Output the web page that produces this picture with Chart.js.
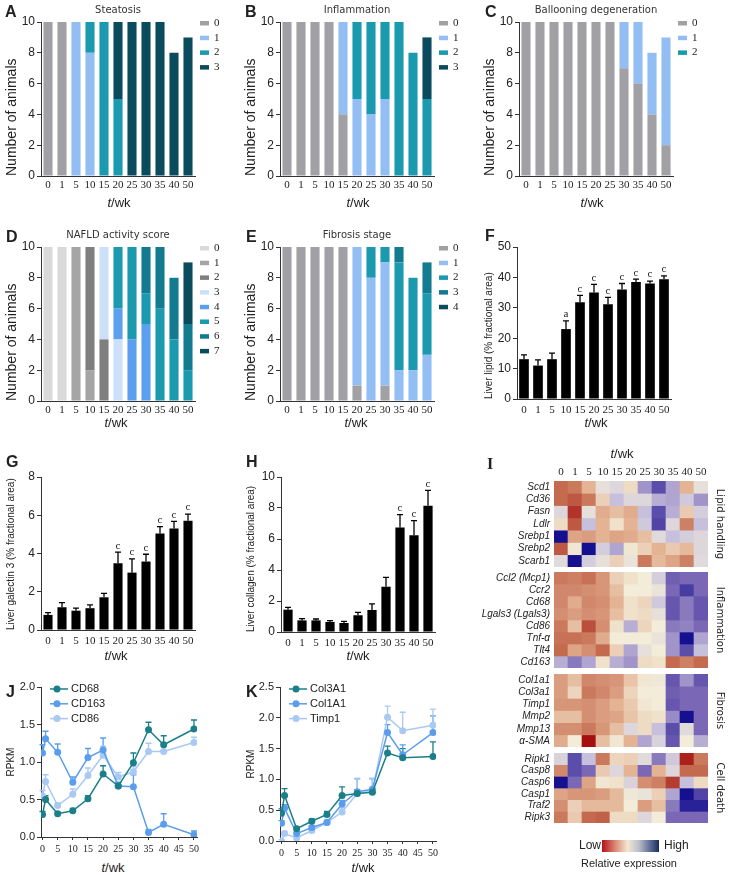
<!DOCTYPE html>
<html>
<head>
<meta charset="utf-8">
<script src="https://cdn.jsdelivr.net/npm/chart.js@4.4.1/dist/chart.umd.min.js"></script>
<style>
body{margin:0;background:#fff;width:730px;height:875px;position:relative;overflow:hidden;font-family:"Liberation Sans",Arial,sans-serif;color:#222;}
canvas{position:absolute;}
.t{position:absolute;white-space:nowrap;line-height:1;}
.letter{font-weight:bold;font-size:16px;}
.tw{font-size:13px;transform:translate(-50%,-50%);}
</style>
</head>
<body>
<canvas id="cA" width="240" height="200" style="left:0;top:0"></canvas>
<canvas id="cB" width="240" height="200" style="left:239px;top:0"></canvas>
<canvas id="cC" width="240" height="200" style="left:478px;top:0"></canvas>
<canvas id="cD" width="240" height="200" style="left:0;top:225px"></canvas>
<canvas id="cE" width="240" height="200" style="left:239px;top:225px"></canvas>
<canvas id="cF" width="200" height="185" style="left:478px;top:232px"></canvas>
<canvas id="cG" width="200" height="185" style="left:0;top:462px"></canvas>
<canvas id="cH" width="200" height="187" style="left:240px;top:462px"></canvas>
<canvas id="cI1" width="250" height="127" style="left:480px;top:440px"></canvas>
<canvas id="cI2" width="250" height="96" style="left:480px;top:572px"></canvas>
<canvas id="cI3" width="250" height="73" style="left:480px;top:674px"></canvas>
<canvas id="cI4" width="250" height="70" style="left:480px;top:753px"></canvas>
<canvas id="cJ" width="210" height="185" style="left:0;top:672px"></canvas>
<canvas id="cK" width="210" height="189" style="left:240px;top:672px"></canvas>

<div class="t letter" style="left:5px;top:4px">A</div>
<div class="t letter" style="left:245px;top:4px">B</div>
<div class="t letter" style="left:485px;top:4px">C</div>
<div class="t letter" style="left:6px;top:229px">D</div>
<div class="t letter" style="left:246px;top:229px">E</div>
<div class="t letter" style="left:485px;top:228px">F</div>
<div class="t letter" style="left:6px;top:454px">G</div>
<div class="t letter" style="left:246px;top:454px">H</div>
<div class="t letter" style="left:487px;top:456px;font-family:'Liberation Serif',serif">I</div>
<div class="t letter" style="left:6px;top:684px">J</div>
<div class="t letter" style="left:246px;top:684px">K</div>

<div class="t tw" style="left:119px;top:202px"><i>t</i>/wk</div>
<div class="t tw" style="left:358px;top:202px"><i>t</i>/wk</div>
<div class="t tw" style="left:592px;top:202px"><i>t</i>/wk</div>
<div class="t tw" style="left:116px;top:422px"><i>t</i>/wk</div>
<div class="t tw" style="left:356px;top:422px"><i>t</i>/wk</div>
<div class="t tw" style="left:596px;top:422px"><i>t</i>/wk</div>
<div class="t tw" style="left:116px;top:655px"><i>t</i>/wk</div>
<div class="t tw" style="left:358px;top:655px"><i>t</i>/wk</div>
<div class="t tw" style="left:622px;top:453px"><i>t</i>/wk</div>
<div class="t tw" style="left:113px;top:867px"><i>t</i>/wk</div>
<div class="t tw" style="left:363px;top:867px"><i>t</i>/wk</div>

<div class="t" style="left:579px;top:839px;font-size:12px">Low</div>
<div style="position:absolute;left:602px;top:840px;width:57px;height:12px;background:linear-gradient(to right,#b3121b 0%,#d9826e 22%,#f4e8d0 45%,#b9bccb 65%,#5b6a94 85%,#1c2a5c 100%)"></div>
<div class="t" style="left:664px;top:839px;font-size:12px">High</div>
<div class="t" style="left:629px;top:863px;font-size:11px;transform:translate(-50%,-50%)">Relative expression</div>

<script>
Chart.defaults.font.family = '"Liberation Sans", Arial, sans-serif';
Chart.defaults.color = '#333';
Chart.defaults.animation = false;

const weeks = ['0', '1', '5', '10', '15', '20', '25', '30', '35', '40', '50'];
const weekNum = [0, 1, 5, 10, 15, 20, 25, 30, 35, 40, 50];
const lineTicks = [0, 5, 10, 15, 20, 25, 30, 35, 40, 45, 50];

// A - steatosis grade counts
const steat0 = [10, 10, 0, 0, 0, 0, 0, 0, 0, 0, 0];
const steat1 = [0, 0, 10, 8, 0, 0, 0, 0, 0, 0, 0];
const steat2 = [0, 0, 0, 2, 10, 5, 0, 0, 0, 0, 0];
const steat3 = [0, 0, 0, 0, 0, 5, 10, 10, 10, 8, 9];
// B - inflammation
const infl0 = [10, 10, 10, 10, 4, 0, 0, 0, 0, 0, 0];
const infl1 = [0, 0, 0, 0, 6, 5, 4, 5, 0, 0, 0];
const infl2 = [0, 0, 0, 0, 0, 5, 6, 5, 10, 8, 5];
const infl3 = [0, 0, 0, 0, 0, 0, 0, 0, 0, 0, 4];
// C - ballooning
const ball0 = [10, 10, 10, 10, 10, 10, 10, 7, 6, 4, 2];
const ball1 = [0, 0, 0, 0, 0, 0, 0, 3, 4, 4, 7];
const ball2 = [0, 0, 0, 0, 0, 0, 0, 0, 0, 0, 0];
// D - NAFLD activity score
const nas0 = [10, 10, 0, 0, 0, 0, 0, 0, 0, 0, 0];
const nas1 = [0, 0, 10, 2, 0, 0, 0, 0, 0, 0, 0];
const nas2 = [0, 0, 0, 8, 4, 0, 0, 0, 0, 0, 0];
const nas3 = [0, 0, 0, 0, 6, 4, 0, 0, 0, 0, 0];
const nas4 = [0, 0, 0, 0, 0, 2, 4, 5, 0, 0, 0];
const nas5 = [0, 0, 0, 0, 0, 4, 6, 2, 6, 4, 2];
const nas6 = [0, 0, 0, 0, 0, 0, 0, 3, 4, 4, 3];
const nas7 = [0, 0, 0, 0, 0, 0, 0, 0, 0, 0, 4];
// E - fibrosis stage
const fib0 = [10, 10, 10, 10, 10, 1, 0, 1, 0, 0, 0];
const fib1 = [0, 0, 0, 0, 0, 9, 8, 8, 2, 2, 3];
const fib2 = [0, 0, 0, 0, 0, 0, 2, 1, 7, 6, 4];
const fib3 = [0, 0, 0, 0, 0, 0, 0, 0, 1, 0, 2];
const fib4 = [0, 0, 0, 0, 0, 0, 0, 0, 0, 0, 0];

// F/G/H - means, upper error, significance marks
const lipid = [13.1, 11.0, 13.1, 23.0, 31.8, 35.0, 31.2, 36.0, 38.5, 38.0, 39.4];
const lipidErr = [1.4, 1.9, 2.0, 2.7, 2.3, 2.7, 2.2, 2.0, 0.9, 0.8, 1.1];
const lipidSig = ['', '', '', 'a', 'c', 'c', 'c', 'c', 'c', 'c', 'c'];
const galectin = [0.79, 1.19, 1.01, 1.14, 1.71, 3.49, 3.0, 3.58, 5.05, 5.31, 5.71];
const galectinErr = [0.12, 0.24, 0.13, 0.17, 0.21, 0.58, 0.72, 0.38, 0.36, 0.37, 0.35];
const galectinSig = ['', '', '', '', '', 'c', 'c', 'c', 'c', 'c', 'c'];
const collagen = [1.44, 0.75, 0.75, 0.65, 0.58, 1.08, 1.42, 2.92, 6.75, 6.24, 8.15];
const collagenErr = [0.15, 0.11, 0.09, 0.08, 0.11, 0.19, 0.39, 0.61, 0.82, 0.94, 0.99];
const collagenSig = ['', '', '', '', '', '', '', '', 'c', 'c', 'c'];

// I - heatmap (negative = low/red, positive = high/blue)
const lipidGenes = ['Scd1', 'Cd36', 'Fasn', 'Ldlr', 'Srebp1', 'Srebp2', 'Scarb1'];
const lipidHeat = [
  [-2, -1.8, -1, 0.3, 0.5, -0.3, 1.5, 2.3, 1.3, -1, 0.3],
  [-2, -2.2, -1.8, -0.5, 1, 0.5, 0.5, 1.2, 1.3, 0.8, 1.5],
  [0.5, -2.6, 0.3, -1.1, -0.8, -1.1, 1, 2.3, 1.2, -0.6, 0.7],
  [-0.3, -2.2, 1, -1, -0.2, -1, 0.8, 2.4, 0.5, -1.7, 1],
  [3, -1.2, -1.3, -1, -1.2, -1.1, -0.8, 0.4, 1, 0.7, 0.5],
  [-2.2, -0.1, 3, 0.7, 1.3, -0.1, -0.5, -1, -0.6, -0.9, 0.5],
  [0.4, 3, 0.7, 0.3, -0.5, 0.2, -1.8, -0.9, -1.2, -1.7, 0.4]
];
const inflamGenes = ['Ccl2 (Mcp1)', 'Ccr2', 'Cd68', 'Lgals3 (Lgals3)', 'Cd86', 'Tnf-α', 'Tlt4', 'Cd163'];
const inflamHeat = [
  [-1.8, -1.7, -1.9, -1.4, -0.5, -0.2, 0, 0.7, 2.1, 2, 2],
  [-1.6, -1.6, -1.5, -1.4, -0.8, 0, 0, 0.2, 2, 2.5, 2],
  [-1.6, -1.1, -1.6, -1.5, -1, -0.2, -0.4, 0.8, 2.2, 1.8, 2.2],
  [-1.5, -1.3, -1.5, -1.4, -0.8, -0.2, -0.3, 0.3, 2.2, 1.8, 2.2],
  [-1.8, -0.8, -2.3, -1.5, -0.2, 1.2, -0.4, 0, 1.8, 1.7, 2],
  [-1.9, -1.9, -1.8, -1.1, 0, 0, 0, 0.2, 1.5, 3, 1.3],
  [-2, -1.2, -1.5, -2, -0.5, 1.3, 0.3, 0, 1.5, 2.3, 1],
  [1.2, 1.8, 1.3, -0.2, 1.2, 1.5, -0.3, -0.2, -2, -1.7, -2]
];
const fibroGenes = ['Col1a1', 'Col3a1', 'Timp1', 'Mmp2', 'Mmp13', 'α-SMA'];
const fibroHeat = [
  [-1.3, -0.8, -1.6, -1.5, -1.4, -0.7, -0.1, 0.1, 2.2, 1.5, 2.2],
  [-1.3, -0.4, -1.8, -1.6, -1.3, -0.4, 0, 0, 2.1, 2, 2],
  [-1.4, -1.4, -1.5, -1.3, -1, -0.6, -0.1, 0, 2.2, 2, 2],
  [-0.8, -0.8, -1.5, -1.3, -1.2, -0.7, -0.3, -0.2, 1.6, 3, 2],
  [-1.5, -1.5, -1.8, -1.4, -0.8, 0.5, -0.3, 1, 2.3, 0.4, 2],
  [-1.1, 0, -3, -0.8, -0.1, -1, 1.3, 0.6, 2.2, 0, 1.2]
];
const deathGenes = ['Ripk1', 'Casp8', 'Casp6', 'Casp1', 'Traf2', 'Ripk3'];
const deathHeat = [
  [0.6, 2.3, 1, -1.8, -0.4, -0.5, 0.4, 1.8, 0.8, -2.8, -1.8],
  [-1.6, 2.3, 2, -0.6, 0.5, -1, 2, -1, 0.5, -2, -2],
  [3, 2, -1.2, -0.1, -0.2, 0.6, -1.5, -1.7, -2.5, 1, -0.3],
  [-1.2, -1.4, -1.4, -1.3, -0.9, 0.1, 0.2, -0.5, 1.3, 3, 2.4],
  [-1.5, -0.5, -0.9, -0.9, -0.9, 0, -1.3, -0.8, 1.8, 2.8, 2.8],
  [-1.8, -0.6, -2, -2.1, -0.3, -0.3, 0.5, 0, 2, 2, 2]
];

// J - RPKM
const cd68 = [0.30, 0.50, 0.31, 0.35, 0.51, 0.84, 0.68, 0.99, 1.43, 1.23, 1.44];
const cd68Err = [0.04, 0.05, 0.02, 0.03, 0.04, 0.11, 0.04, 0.13, 0.10, 0.12, 0.12];
const cd163 = [1.12, 1.31, 1.13, 0.73, 1.06, 1.16, 0.68, 0.67, 0.06, 0.17, 0.03];
const cd163Err = [0.11, 0.10, 0.11, 0.07, 0.12, 0.16, 0.05, 0.16, 0.04, 0.14, 0.05];
const cd86 = [0.55, 0.74, 0.42, 0.57, 0.82, 1.09, 0.80, 0.87, 1.14, 1.14, 1.26];
const cd86Err = [0.07, 0.09, 0.03, 0.07, 0.10, 0.12, 0.06, 0.07, 0.11, 0.02, 0.07];
// K - RPKM
const col3a1 = [0.45, 0.74, 0.20, 0.32, 0.43, 0.74, 0.77, 0.79, 1.43, 1.35, 1.37];
const col3a1Err = [0.07, 0.11, 0.02, 0.04, 0.05, 0.14, 0.06, 0.05, 0.11, 0.15, 0.24];
const col1a1 = [0.29, 0.53, 0.12, 0.22, 0.30, 0.60, 0.80, 0.84, 1.76, 1.40, 1.76];
const col1a1Err = [0.04, 0.06, 0.02, 0.03, 0.04, 0.06, 0.21, 0.17, 0.13, 0.16, 0.27];
const timp1 = [0.00, 0.12, 0.05, 0.17, 0.30, 0.47, 0.77, 0.81, 2.01, 1.79, 1.88];
const timp1Err = [0.02, 0.03, 0.02, 0.03, 0.05, 0.07, 0.25, 0.21, 0.18, 0.30, 0.26];

const GREY = '#a1a1a5', LBLUE = '#93bef4', TEAL = '#1b9aaf', MTEAL = '#127b90', DTEAL = '#0b4b5e';
const C_DARK = '#1a7f88', C_MID = '#5b9ded', C_LIGHT = '#a9c9f3';
const AX = '#333';

// legend at right of the plot (small bar swatches)
const sideLegend = {
  id: 'sideLegend',
  afterDraw(chart) {
    const {ctx, chartArea} = chart;
    ctx.save();
    ctx.font = '11px "Liberation Serif", serif';
    ctx.textBaseline = 'middle';
    chart.data.datasets.forEach((ds, i) => {
      const y = chartArea.top + 1 + i * 14.7;
      ctx.fillStyle = ds.backgroundColor;
      ctx.fillRect(chartArea.right + 5, y - 2, 9, 4.5);
      ctx.fillStyle = '#222';
      ctx.fillText(ds.label, chartArea.right + 19, y);
    });
    ctx.restore();
  }
};

// legend inside top-left of the plot (line + dot)
const lineLegend = {
  id: 'lineLegend',
  afterDraw(chart) {
    const {ctx, chartArea} = chart;
    ctx.save();
    ctx.font = '11px "Liberation Sans", Arial';
    ctx.textBaseline = 'middle';
    chart.data.datasets.forEach((ds, i) => {
      const y = chartArea.top + 2 + i * 14.8, x = chartArea.left + 9;
      ctx.strokeStyle = ds.borderColor;
      ctx.lineWidth = 1.5;
      ctx.beginPath(); ctx.moveTo(x, y); ctx.lineTo(x + 18, y); ctx.stroke();
      ctx.fillStyle = ds.borderColor;
      ctx.beginPath(); ctx.arc(x + 7, y, 3.5, 0, Math.PI * 2); ctx.fill();
      ctx.fillStyle = '#222';
      ctx.fillText(ds.label, x + 21, y);
    });
    ctx.restore();
  }
};

// upward error bars + significance letters
const errorBars = {
  id: 'errorBars',
  beforeDatasetsDraw(chart) {
    const ctx = chart.ctx;
    chart.data.datasets.forEach((ds, i) => {
      if (!ds.errors) return;
      const meta = chart.getDatasetMeta(i);
      const yScale = chart.scales[meta.yAxisID];
      meta.data.forEach((el, j) => {
        const v = typeof ds.data[j] === 'object' ? ds.data[j].y : ds.data[j];
        const top = yScale.getPixelForValue(v + ds.errors[j]);
        ctx.save();
        ctx.strokeStyle = ds.errColor || ds.borderColor;
        ctx.lineWidth = 1.3;
        ctx.beginPath();
        ctx.moveTo(el.x, el.y); ctx.lineTo(el.x, top);
        ctx.moveTo(el.x - 3, top); ctx.lineTo(el.x + 3, top);
        ctx.stroke();
        if (ds.marks && ds.marks[j]) {
          ctx.fillStyle = '#222';
          ctx.font = '11px "Liberation Serif", serif';
          ctx.textAlign = 'center';
          ctx.textBaseline = 'bottom';
          ctx.fillText(ds.marks[j], el.x, top - 1);
        }
        ctx.restore();
      });
    });
  }
};

function yFit(w) { return s => { s.width = w; s.paddingTop = 0; s.paddingBottom = 0; }; }
function xFit(h) { return s => { s.height = h; s.paddingLeft = 0; s.paddingRight = 0; }; }

function stacked(id, title, series, colors) {
  new Chart(document.getElementById(id), {
    type: 'bar',
    data: {
      labels: weeks,
      datasets: series.map((d, i) => ({label: String(i), data: d, backgroundColor: colors[i],
        barPercentage: 0.65, categoryPercentage: 1, borderWidth: 0}))
    },
    options: {
      responsive: false,
      layout: {padding: {right: 45}},
      plugins: {
        legend: {display: false}, tooltip: {enabled: false},
        title: {display: true, text: title, fullSize: false, color: '#333',
          font: {size: 10, weight: 'normal', family: '"DejaVu Sans", sans-serif'}, padding: {top: 4, bottom: 6}}
      },
      scales: {
        x: {stacked: true, grid: {display: false, drawTicks: false}, border: {color: AX},
          ticks: {padding: 3, autoSkip: false, maxRotation: 0, color: '#222', font: {family: '"Liberation Serif", serif', size: 11}},
          afterFit: xFit(24)},
        y: {stacked: true, min: 0, max: 10, border: {color: AX},
          grid: {drawOnChartArea: false, tickLength: 4, color: AX},
          ticks: {stepSize: 2, padding: 2, color: '#222', font: {size: 12}},
          title: {display: true, text: 'Number of animals', align: 'start', color: '#222', font: {size: 14}, padding: {top: 4}},
          afterFit: yFit(41)}
      }
    },
    plugins: [sideLegend]
  });
}

stacked('cA', 'Steatosis', [steat0, steat1, steat2, steat3], [GREY, LBLUE, TEAL, DTEAL]);
stacked('cB', 'Inflammation', [infl0, infl1, infl2, infl3], [GREY, LBLUE, TEAL, DTEAL]);
stacked('cC', 'Ballooning degeneration', [ball0, ball1, ball2], [GREY, LBLUE, TEAL]);
stacked('cD', 'NAFLD activity score', [nas0, nas1, nas2, nas3, nas4, nas5, nas6, nas7],
  ['#d9d9d9', '#a5a5a5', '#7f7f7f', '#cde0fa', '#5c9ff0', TEAL, MTEAL, DTEAL]);
stacked('cE', 'Fibrosis stage', [fib0, fib1, fib2, fib3, fib4], [GREY, LBLUE, TEAL, MTEAL, DTEAL]);

function errBars(id, means, errs, marks, yMax, step, yTitle, left, bottom, right, bp) {
  new Chart(document.getElementById(id), {
    type: 'bar',
    data: {
      labels: weeks,
      datasets: [{data: means, errors: errs, marks: marks, backgroundColor: '#000', errColor: '#000',
        barPercentage: bp, categoryPercentage: 1, borderWidth: 0}]
    },
    options: {
      responsive: false,
      layout: {padding: {top: 15, right: right}},
      plugins: {legend: {display: false}, tooltip: {enabled: false}},
      scales: {
        x: {grid: {display: false, drawTicks: false}, border: {color: AX},
          ticks: {padding: 5, autoSkip: false, maxRotation: 0, color: '#222', font: {family: '"Liberation Serif", serif', size: 11}},
          afterFit: xFit(bottom)},
        y: {min: 0, max: yMax, border: {color: AX},
          grid: {drawOnChartArea: false, tickLength: 4, color: AX},
          ticks: {stepSize: step, padding: 2, color: '#222', font: {size: 12}},
          title: {display: true, text: yTitle, align: 'start', color: '#222', font: {size: 10}, padding: {top: 5}},
          afterFit: yFit(left)}
      }
    },
    plugins: [errorBars]
  });
}

errBars('cF', lipid, lipidErr, lipidSig, 50, 10, 'Liver lipid (% fractional area)', 39, 18, 7, 0.69);
errBars('cG', galectin, galectinErr, galectinSig, 8, 2, 'Liver galectin 3 (% fractional area)', 41, 17, 5, 0.65);
errBars('cH', collagen, collagenErr, collagenSig, 10, 2, 'Liver collagen (% fractional area)', 41, 17, 5, 0.66);

const heatStops = [[-3, [165, 15, 15]], [-2, [196, 106, 79]], [-1, [227, 179, 148]], [0, [243, 236, 217]],
  [1, [199, 192, 220]], [2, [122, 103, 181]], [3, [20, 16, 143]]];
function heatColor(v) {
  v = Math.max(-3, Math.min(3, v));
  for (let k = 0; k < heatStops.length - 1; k++) {
    const [a, ca] = heatStops[k], [b, cb] = heatStops[k + 1];
    if (v <= b) {
      const f = (v - a) / (b - a);
      const c = ca.map((x, n) => Math.round(x + (cb[n] - x) * f));
      return 'rgb(' + c.join(',') + ')';
    }
  }
  return 'rgb(20,16,143)';
}

function heat(id, genes, matrix, side, showTop) {
  new Chart(document.getElementById(id), {
    type: 'bar',
    data: {
      labels: weeks,
      datasets: genes.map((g, r) => ({label: g, data: weeks.map(() => 1),
        backgroundColor: matrix[r].map(heatColor), barPercentage: 1, categoryPercentage: 1, borderWidth: 0}))
    },
    options: {
      responsive: false,
      plugins: {legend: {display: false}, tooltip: {enabled: false}},
      scales: {
        x: {position: 'top', stacked: true, display: showTop, grid: {display: false, drawTicks: false}, border: {display: false},
          ticks: {padding: 2, autoSkip: false, maxRotation: 0, color: '#222', font: {family: '"Liberation Serif", serif', size: 11}},
          afterFit: xFit(showTop ? 41 : 0)},
        y: {stacked: true, reverse: true, min: 0, max: genes.length,
          afterBuildTicks: s => { s.ticks = genes.map((g, i) => ({value: i + 0.5})); },
          grid: {display: false, drawTicks: false}, border: {display: false},
          ticks: {autoSkip: false, padding: 4, color: '#222', callback: v => genes[Math.floor(v)],
            font: {style: 'italic', size: 10}},
          afterFit: yFit(74)},
        y2: {position: 'right', min: 0, max: 1, grid: {display: false, drawTicks: false}, border: {display: false},
          ticks: {display: false},
          title: {display: true, text: side, color: '#222', font: {size: 10, family: '"DejaVu Sans", sans-serif'}, padding: {top: 4}},
          afterFit: yFit(22)}
      }
    }
  });
}

heat('cI1', lipidGenes, lipidHeat, 'Lipid handling', true);
heat('cI2', inflamGenes, inflamHeat, 'Inflammation', false);
heat('cI3', fibroGenes, fibroHeat, 'Fibrosis', false);
heat('cI4', deathGenes, deathHeat, 'Cell death', false);

function lines(id, series, names, errs, colors, yMax, left, bottom, right) {
  new Chart(document.getElementById(id), {
    type: 'line',
    data: {
      datasets: series.map((d, i) => ({
        label: names[i], data: weekNum.map((x, j) => ({x: x, y: d[j]})), errors: errs[i],
        borderColor: colors[i], backgroundColor: colors[i], pointBackgroundColor: colors[i],
        borderWidth: 1.5, pointRadius: 3.5, pointBorderWidth: 0, tension: 0
      }))
    },
    options: {
      responsive: false,
      layout: {padding: {top: 15, right: right}},
      plugins: {legend: {display: false}, tooltip: {enabled: false}},
      scales: {
        x: {type: 'linear', min: -0.5, max: 51,
          afterBuildTicks: s => { s.ticks = lineTicks.map(v => ({value: v})); },
          grid: {drawOnChartArea: false, tickLength: 3, color: AX}, border: {color: AX},
          ticks: {padding: 3, autoSkip: false, maxRotation: 0, color: '#222', font: {family: '"Liberation Serif", serif', size: 10}},
          afterFit: xFit(bottom)},
        y: {min: 0, max: yMax, border: {color: AX},
          grid: {drawOnChartArea: false, tickLength: 4, color: AX},
          ticks: {stepSize: 0.5, padding: 2, color: '#222', font: {size: 11}, callback: v => v.toFixed(1)},
          title: {display: true, text: 'RPKM', color: '#222', font: {size: 10}, padding: {top: 5}},
          afterFit: yFit(left)}
      }
    },
    plugins: [errorBars, lineLegend]
  });
}

lines('cJ', [cd68, cd163, cd86], ['CD68', 'CD163', 'CD86'], [cd68Err, cd163Err, cd86Err],
  [C_DARK, C_MID, C_LIGHT], 2.0, 41, 20, 13);
lines('cK', [col3a1, col1a1, timp1], ['Col3A1', 'Col1A1', 'Timp1'], [col3a1Err, col1a1Err, timp1Err],
  [C_DARK, C_MID, C_LIGHT], 2.5, 40, 20, 14);
</script>
</body>
</html>
